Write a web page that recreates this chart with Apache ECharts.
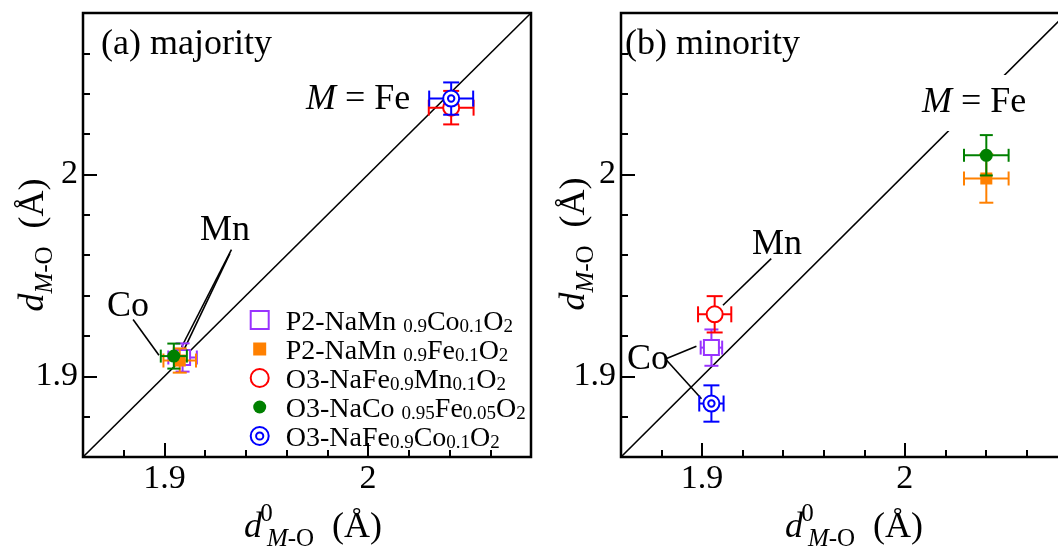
<!DOCTYPE html>
<html><head><meta charset="utf-8">
<script src="https://cdn.jsdelivr.net/npm/echarts@6/dist/echarts.min.js"></script>
<style>html,body{margin:0;padding:0;background:#fff}#c{width:1058px;height:547px}</style>
</head><body><div id="c"></div>
<script>
// ---------- data ----------
const seriesNames = ['P2-NaMn0.9Co0.1O2','P2-NaMn0.9Fe0.1O2','O3-NaFe0.9Mn0.1O2','O3-NaCo0.95Fe0.05O2','O3-NaFe0.9Co0.1O2'];
const legendLabels = [
  '{m|P2-NaMn }{b|0.9}{m|Co}{b|0.1}{m|O}{b|2}',
  '{m|P2-NaMn }{b|0.9}{m|Fe}{b|0.1}{m|O}{b|2}',
  '{m|O3-NaFe}{b|0.9}{m|Mn}{b|0.1}{m|O}{b|2}',
  '{m|O3-NaCo }{b|0.95}{m|Fe}{b|0.05}{m|O}{b|2}',
  '{m|O3-NaFe}{b|0.9}{m|Co}{b|0.1}{m|O}{b|2}'
];
// majority (panel a)
const majorityX    = [1.9089, 1.9075, 2.0408, 1.9046, 2.0408];
const majorityY    = [1.9093, 1.9078, 2.0331, 1.9100, 2.0376];
const majorityXErr = [0.0070, 0.0080, 0.0110, 0.0064, 0.0108];
const majorityYErr = [0.0070, 0.0060, 0.0083, 0.0062, 0.0080];
// minority (panel b)
const minorityX    = [1.9046, 2.0402, 1.9062, 2.0402, 1.9046];
const minorityY    = [1.9142, 1.9980, 1.9307, 2.0095, 1.8865];
const minorityXErr = [0.0053, 0.0110, 0.0082, 0.0110, 0.0060];
const minorityYErr = [0.0090, 0.0120, 0.0090, 0.0100, 0.0090];
// axes
const axisRange  = [1.86, 2.08];
const minorTicks = [1.86,1.88,1.90,1.92,1.94,1.96,1.98,2.00,2.02,2.04,2.06,2.08];
const majorTicks = [1.9, 2.0];
// annotation leader lines (data units)
const majorityLeaders = [
  [[1.8846,1.9281],[1.8973,1.9104]],
  [[1.9329,1.9628],[1.9084,1.9145]],
  [[1.9321,1.9608],[1.9059,1.9054]]
];
const minorityLeaders = [
  [[1.9341,1.9583],[1.9103,1.9352]],
  [[1.8825,1.9088],[1.8972,1.9149]],
  [[1.8825,1.9079],[1.8997,1.8889]]
];

// ---------- styles ----------
const F = '"Liberation Serif", "Times New Roman", serif';
const colors = ['#9933ff','#ff8000','#ff0000','#008000','#0000ff'];
const ring2 = 'path://M0,-10A10,10,0,1,1,0,10A10,10,0,1,1,0,-10ZM0,-4A4,4,0,1,1,0,4A4,4,0,1,1,0,-4Z';
const symbols = ['rect','rect','circle','circle',ring2];
const symbolSizes = [15,12,16,13,16];
const hollow = [true,false,true,false,true];
const caps = [7,7,8,6.5,8];

const titleRich = {
  i:  {fontFamily:F, fontSize:36, fontStyle:'italic', lineHeight:36, verticalAlign:'top', padding:[8,0,0,0], color:'#000'},
  n:  {fontFamily:F, fontSize:36, lineHeight:36, verticalAlign:'top', padding:[8,0,0,0], color:'#000'},
  si: {fontFamily:F, fontSize:25, fontStyle:'italic', lineHeight:25, verticalAlign:'top', padding:[25,0,0,0], color:'#000'},
  s:  {fontFamily:F, fontSize:25, lineHeight:25, verticalAlign:'top', padding:[25,0,0,0], color:'#000'},
  sup:{fontFamily:F, fontSize:25, lineHeight:25, verticalAlign:'top', padding:[0,0,0,4], width:1, color:'#000'}
};
const yName = '{i|d}{si|M}{s|-O}{n|  (Å)}';
const xName = '{i|d}{sup|0}{si|M}{s|-O}{n|  (Å)}';

function makeAxes(dim, gridIndex, nameGap, namePad) {
  const base = {
    type:'value', gridIndex, min:axisRange[0], max:axisRange[1],
    position: dim === 'x' ? 'bottom' : 'left',
    axisLine:{show:false}, splitLine:{show:false}
  };
  const minor = Object.assign({}, base, {
    interval:0.02,
    axisTick:{show:true, inside:true, length:7, lineStyle:{color:'#000', width:2}},
    axisLabel:{show:false}
  });
  const major = Object.assign({}, base, {
    axisTick:{show:true, inside:true, length:14, customValues:majorTicks, lineStyle:{color:'#000', width:2}},
    axisLabel:{show:true, customValues:majorTicks, margin:5, fontFamily:F, fontSize:34, color:'#000',
               formatter: v => String(Math.round(v*10)/10)},
    name: dim === 'x' ? xName : yName,
    nameLocation:'middle', nameGap: nameGap, nameMoveOverlap:false,
    nameRotate: dim === 'x' ? 0 : 90,
    nameTextStyle:{rich:titleRich, padding: namePad}
  });
  return [minor, major];
}

const xAxes = [...makeAxes('x',0,45,[0,0,0,12]), ...makeAxes('x',1,45,[0,0,0,20])];
const yAxes = [...makeAxes('y',0,39,[0,20,0,0]), ...makeAxes('y',1,36,[0,18,0,0])];

function errRender(color, cap) {
  return function(params, api) {
    const x = api.value(0), y = api.value(1), ex = api.value(2), ey = api.value(3);
    const l = api.coord([x-ex, y]), r = api.coord([x+ex, y]);
    const t = api.coord([x, y+ey]), b = api.coord([x, y-ey]);
    const st = {stroke:color, lineWidth:2, fill:null};
    const L = (x1,y1,x2,y2) => ({type:'line', shape:{x1,y1,x2,y2}, style:st});
    return {type:'group', children:[
      L(l[0],l[1],r[0],r[1]),
      L(l[0],l[1]-cap,l[0],l[1]+cap),
      L(r[0],r[1]-cap,r[0],r[1]+cap),
      L(t[0],t[1],b[0],b[1]),
      L(t[0]-cap,t[1],t[0]+cap,t[1]),
      L(b[0]-cap,b[1],b[0]+cap,b[1])
    ]};
  };
}

const series = [];
function addPanel(X, Y, EX, EY, xi, yi, leaders) {
  series.push({type:'line', xAxisIndex:xi, yAxisIndex:yi, data:[[axisRange[0],axisRange[0]],[axisRange[1],axisRange[1]]],
    symbol:'none', lineStyle:{color:'#000', width:1.6}, z:1, silent:true});
  leaders.forEach(seg => series.push({type:'line', xAxisIndex:xi, yAxisIndex:yi, data:seg,
    symbol:'none', lineStyle:{color:'#000', width:1.6}, z:1, silent:true}));
  for (let i = 0; i < seriesNames.length; i++) {
    series.push({type:'custom', name:'err'+xi+'_'+i, xAxisIndex:xi, yAxisIndex:yi,
      renderItem: errRender(colors[i], caps[i]), data:[[X[i], Y[i], EX[i], EY[i]]], z:10+2*i, clip:false, silent:true});
    series.push({type:'scatter', name:seriesNames[i], xAxisIndex:xi, yAxisIndex:yi,
      data:[[X[i], Y[i]]], symbol:symbols[i], symbolSize:symbolSizes[i], z:11+2*i,
      itemStyle: hollow[i] ? {color:'#fff', borderColor:colors[i], borderWidth:2, opacity:1}
                           : {color:colors[i], opacity:1}});
  }
}
addPanel(majorityX, majorityY, majorityXErr, majorityYErr, 1, 1, majorityLeaders);
addPanel(minorityX, minorityY, minorityXErr, minorityYErr, 3, 3, minorityLeaders);

const legendIcons = [null, 'path://M-9,-9M9,9M-6.5,-6.5L6.5,-6.5L6.5,6.5L-6.5,6.5Z', null,
  'path://M-9,-9M9,9M0,-6.5A6.5,6.5,0,1,1,0,6.5A6.5,6.5,0,1,1,0,-6.5Z', null];

function txt(text, x, y, extra) {
  return {type:'text', x:x, y:y, z:100, style:Object.assign({
    text:text, font:'36px "Liberation Serif"', fontFamily:F, fontSize:36, fill:'#000',
    align:'left', verticalAlign:'middle', textAlign:'left', textVerticalAlign:'middle',
    rich:{it:{fontFamily:F, fontSize:36, fontStyle:'italic'}, n:{fontFamily:F, fontSize:36}}
  }, extra || {})};
}

const option = {
  animation:false,
  backgroundColor:'#fff',
  grid:[
    {left:83, top:13, width:448, height:444, show:true, borderColor:'#000', borderWidth:2.5,
     backgroundColor:'transparent', containLabel:false, outerBoundsMode:'none'},
    {left:621, top:13, width:446, height:444, show:true, borderColor:'#000', borderWidth:2.5,
     backgroundColor:'transparent', containLabel:false, outerBoundsMode:'none'}
  ],
  xAxis:xAxes,
  yAxis:yAxes,
  legend:{
    orient:'vertical', left:249.7, top:309, padding:0, itemGap:1,
    itemWidth:18, itemHeight:18,
    data: seriesNames.map((n,i) => legendIcons[i] ? {name:n, icon:legendIcons[i]} : {name:n}),
    formatter: name => legendLabels[seriesNames.indexOf(name)],
    textStyle:{padding:[0,0,0,12], rich:{
      m:{fontFamily:F, fontSize:28, lineHeight:22, verticalAlign:'top', padding:[0,0,0,0], color:'#000'},
      b:{fontFamily:F, fontSize:19, lineHeight:19, verticalAlign:'top', padding:[8.6,0,0,0], color:'#000'}
    }},
    selectedMode:false
  },
  graphic:[
    txt('(a) majority', 101, 45),
    txt('(b) minority', 625, 45),
    txt('{it|M}{n| = Fe}', 306, 100),
    txt('{it|M}{n| = Fe}', 919, 103, {backgroundColor:'#fff', padding:[10,3,10,3]}),
    txt('Co', 107, 307),
    txt('Mn', 200, 231),
    txt('Mn', 752, 245),
    txt('Co', 627, 360)
  ],
  series:series
};

const chart = echarts.init(document.getElementById('c'), null, {renderer:'canvas'});
chart.setOption(option);
</script></body></html>
